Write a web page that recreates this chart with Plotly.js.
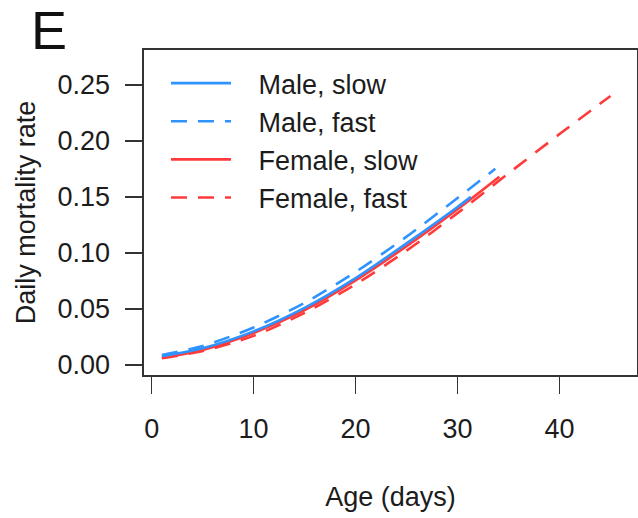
<!DOCTYPE html>
<html>
<head>
<meta charset="utf-8">
<script src="https://cdn.plot.ly/plotly-3.0.1.min.js"></script>
<style>
  html, body { margin: 0; padding: 0; background: #fff; }
  #chart { width: 638px; height: 518px; }
</style>
</head>
<body>
<div id="chart"></div>
<script>
// Daily mortality rate by age, per sex and development speed
const maleSlowAge  = [1, 5, 10, 15, 20, 25, 30, 31.3];
const maleSlowRate = [0.0080, 0.0150, 0.0300, 0.0510, 0.0775, 0.1085, 0.1410, 0.1500];

const maleFastAge  = [1, 5, 10, 15, 20, 25, 30, 33.7];
const maleFastRate = [0.0090, 0.0170, 0.0335, 0.0555, 0.0830, 0.1145, 0.1490, 0.1750];

const femaleSlowAge  = [1, 5, 10, 15, 20, 25, 30, 34.1];
const femaleSlowRate = [0.0065, 0.0135, 0.0285, 0.0490, 0.0755, 0.1060, 0.1390, 0.1680];

const femaleFastAge  = [1, 5, 10, 15, 20, 25, 30, 35, 40, 45];
const femaleFastRate = [0.0060, 0.0125, 0.0260, 0.0465, 0.0720, 0.1020, 0.1355, 0.1710, 0.2060, 0.2400];

const xTicks = [0, 10, 20, 30, 40];
const yTicks = [0.00, 0.05, 0.10, 0.15, 0.20, 0.25];

const BLUE = '#2F93FF';
const RED = '#FF3A3A';
const DASH = '16px,11px';
const FONT = 'Liberation Sans, Arial, Helvetica, sans-serif';
const INK = '#1c1c1c';
const PAD = '\u00a0\u00a0\u00a0';   // gap between legend swatch and label

function series(name, x, y, color, dash, rank) {
  return {
    type: 'scatter', mode: 'lines', name: PAD + name, x: x, y: y,
    legendrank: rank,
    line: { color: color, width: 2.6, dash: dash, shape: 'spline', smoothing: 0.8 },
    hoverinfo: 'skip'
  };
}

// red curves first so the blue ones sit on top
const data = [
  series('Female, fast', femaleFastAge, femaleFastRate, RED, DASH, 4),
  series('Female, slow', femaleSlowAge, femaleSlowRate, RED, 'solid', 3),
  series('Male, slow', maleSlowAge, maleSlowRate, BLUE, 'solid', 1),
  series('Male, fast', maleFastAge, maleFastRate, BLUE, DASH, 2)
];

const axisCommon = {
  showgrid: false, zeroline: false,
  showline: true, mirror: true, linecolor: '#333', linewidth: 1.6,
  ticks: 'outside', ticklen: 17, tickwidth: 1.6, tickcolor: '#333',
  tickfont: { family: FONT, size: 27, color: INK },
  fixedrange: true
};

const layout = {
  width: 638, height: 518,
  margin: { l: 144, r: 1, t: 50, b: 143 },
  paper_bgcolor: '#fff', plot_bgcolor: '#fff',
  font: { family: FONT, color: INK },
  showlegend: true,
  legend: {
    x: 0.0446, y: 0.972, xanchor: 'left', yanchor: 'top',
    bgcolor: 'rgba(0,0,0,0)', borderwidth: 0,
    font: { family: FONT, size: 27, color: INK },
    itemwidth: 60, tracegroupgap: 0
  },
  xaxis: Object.assign({}, axisCommon, {
    range: [-0.75, 47.6],
    tickvals: xTicks,
    ticktext: xTicks.map(String),
    ticklabelstandoff: 12,
    title: { text: 'Age (days)', font: { family: FONT, size: 27, color: INK }, standoff: 44 }
  }),
  yaxis: Object.assign({}, axisCommon, {
    range: [-0.0089, 0.281],
    tickvals: yTicks,
    ticktext: yTicks.map(v => v.toFixed(2)),
    ticklabelstandoff: 10,
    title: { text: 'Daily mortality rate', font: { family: FONT, size: 27, color: INK }, standoff: 14 }
  }),
  annotations: [{
    text: 'E', xref: 'paper', yref: 'paper',
    x: -0.193, y: 1.062, xanchor: 'center', yanchor: 'middle',
    showarrow: false, font: { family: FONT, size: 54, color: '#111' }
  }]
};

Plotly.newPlot('chart', data, layout, { displayModeBar: false, staticPlot: true });
</script>
</body>
</html>
